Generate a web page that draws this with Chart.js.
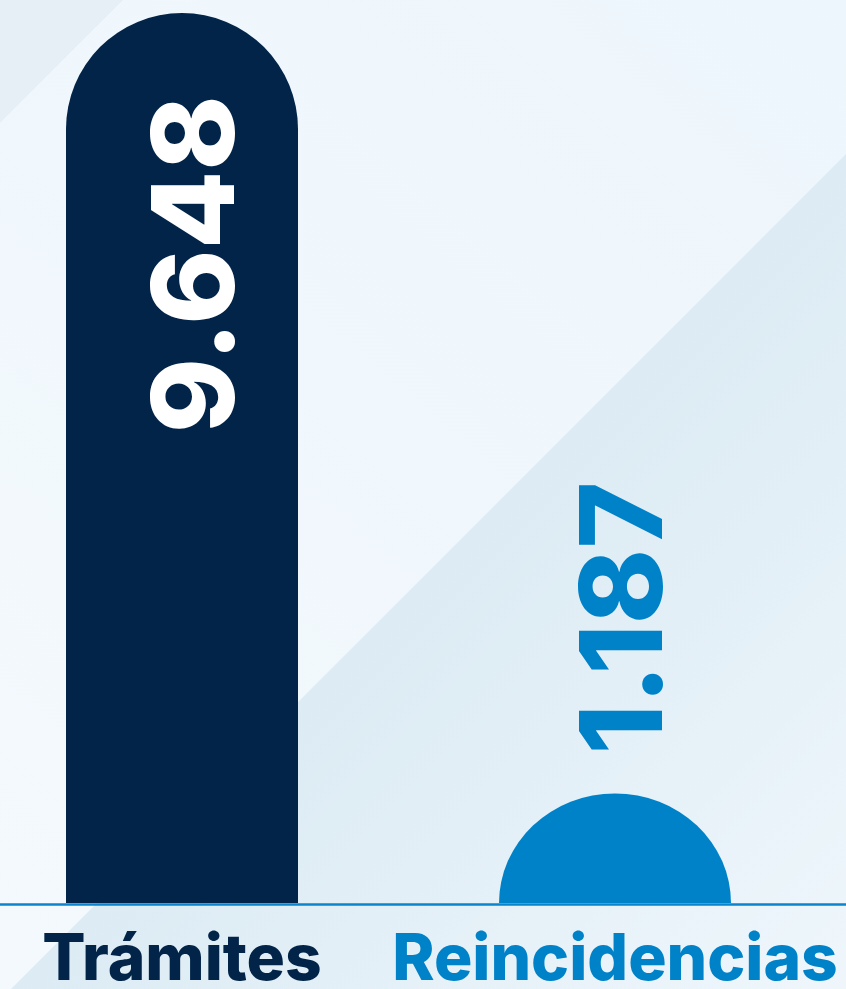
<!DOCTYPE html>
<html>
<head>
<meta charset="utf-8">
<script src="https://cdn.jsdelivr.net/npm/chart.js@4.4.1/dist/chart.umd.min.js"></script>
<style>
  html, body { margin: 0; padding: 0; background: #eef6fb; }
  #contenedor { width: 846px; height: 989px; }
</style>
</head>
<body>
<div id="contenedor"><canvas id="grafica"></canvas></div>
<script>
// datos de la grafica
const categorias = ['Trámites', 'Reincidencias'];
const valores = [9648, 1187];
const etiquetas = ['9.648', '1.187'];
const coloresBarra = ['#012448', '#0082c8'];
const coloresTexto = ['#012448', '#0082c8'];
const escalaMax = 9790;

const FUENTE = 'Inter';

// barras con tapa redonda (semicirculo arriba)
Chart.BarElement.prototype.draw = function(ctx) {
    const {x, y, base, width} = this.getProps(['x', 'y', 'base', 'width']);
    const r = width / 2;
    const ry = Math.min(r, base - y);
    ctx.save();
    ctx.fillStyle = this.options.backgroundColor;
    ctx.beginPath();
    ctx.moveTo(x - r, base);
    ctx.lineTo(x - r, y + ry);
    ctx.ellipse(x, y + ry, r, ry, 0, Math.PI, 2 * Math.PI);
    ctx.lineTo(x + r, base);
    ctx.closePath();
    ctx.fill();
    ctx.restore();
};

// fondo claro con diagonales
const fondo = {
    id: 'fondo',
    beforeDraw(chart) {
        const {ctx, width, height} = chart;
        ctx.save();
        const g = ctx.createLinearGradient(width, 0, 0, height);
        g.addColorStop(0, '#edf6fc');
        g.addColorStop(1, '#f4f9fd');
        ctx.fillStyle = g;
        ctx.fillRect(0, 0, width, height);

        // esquina superior izquierda
        ctx.fillStyle = '#e7eff6';
        ctx.beginPath();
        ctx.moveTo(0, 0);
        ctx.lineTo(123, 0);
        ctx.lineTo(0, 123);
        ctx.closePath();
        ctx.fill();

        // triangulo grande abajo a la derecha
        const g2 = ctx.createLinearGradient(500, 500, 900, 900);
        g2.addColorStop(0, '#dcebf4');
        g2.addColorStop(1, '#eef6fb');
        ctx.fillStyle = g2;
        ctx.beginPath();
        ctx.moveTo(width, 1000 - width);
        ctx.lineTo(width, height);
        ctx.lineTo(1000 - height, height);
        ctx.closePath();
        ctx.fill();
        ctx.restore();
    }
};

// linea base + etiquetas de valor giradas
const etiquetasValor = {
    id: 'etiquetasValor',
    afterDatasetsDraw(chart) {
        const ctx = chart.ctx;
        const meta = chart.getDatasetMeta(0);
        const yBase = chart.scales.y.getPixelForValue(0);

        ctx.save();
        ctx.strokeStyle = '#0a84cc';
        ctx.lineWidth = 2.7;
        ctx.beginPath();
        ctx.moveTo(0, yBase + 1.5);
        ctx.lineTo(chart.width, yBase + 1.5);
        ctx.stroke();

        ctx.font = '800 114px ' + FUENTE;
        ctx.textBaseline = 'alphabetic';
        meta.data.forEach((bar, i) => {
            const texto = etiquetas[i];
            const largo = ctx.measureText(texto).width;
            const alto = bar.base - bar.y;
            ctx.save();
            if (alto > largo + 150) {
                // dentro de la barra, arriba
                ctx.translate(bar.x + 52, bar.y + 82);
                ctx.rotate(-Math.PI / 2);
                ctx.textAlign = 'right';
                ctx.fillStyle = '#ffffff';
            } else {
                // encima de la barra
                ctx.translate(bar.x + 47, bar.y - 39);
                ctx.rotate(-Math.PI / 2);
                ctx.textAlign = 'left';
                ctx.fillStyle = coloresTexto[i];
            }
            ctx.fillText(texto, 0, 0);
            ctx.restore();
        });
        ctx.restore();
    }
};

new Chart(document.getElementById('grafica'), {
    type: 'bar',
    data: {
        labels: categorias,
        datasets: [{
            data: valores,
            backgroundColor: coloresBarra,
            barThickness: 232,
            clip: false
        }]
    },
    options: {
        responsive: true,
        maintainAspectRatio: false,
        animation: false,
        layout: { padding: { left: 182, right: 231, top: 0, bottom: 0 } },
        plugins: {
            legend: { display: false },
            tooltip: { enabled: false }
        },
        scales: {
            x: {
                offset: false,
                grid: { display: false, drawTicks: false },
                border: { display: false },
                ticks: {
                    autoSkip: false,
                    maxRotation: 0,
                    padding: 19,
                    color: (c) => coloresTexto[c.index],
                    font: { family: FUENTE, size: 64, weight: '800' }
                },
                afterFit: (s) => {
                    s.height = 86;
                    s.paddingLeft = 0;
                    s.paddingRight = 0;
                }
            },
            y: {
                display: false,
                min: 0,
                max: escalaMax
            }
        }
    },
    plugins: [fondo, etiquetasValor]
});
</script>
</body>
</html>
